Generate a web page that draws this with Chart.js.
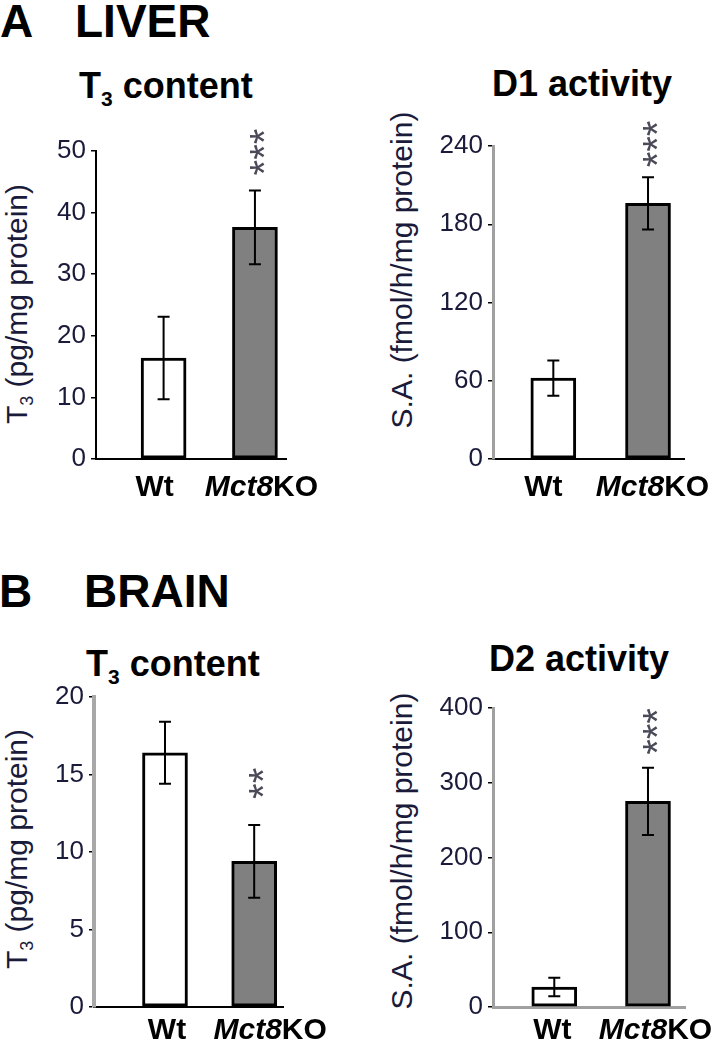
<!DOCTYPE html>
<html>
<head>
<meta charset="utf-8">
<script src="https://cdn.jsdelivr.net/npm/chart.js@4.4.1/dist/chart.umd.min.js"></script>
<style>
body { margin: 0; background: #fff; }
#page { position: relative; width: 715px; height: 1050px; overflow: hidden; font-family: 'Liberation Sans', Arial, sans-serif; }
.abs { position: absolute; white-space: nowrap; line-height: 1; }
.panel { font-size: 46px; font-weight: bold; color: #000; }
.ttl { font-size: 36px; font-weight: bold; color: #000; }
.ttl sub { font-size: 21px; vertical-align: -8px; line-height: 1; }
.ytitle { font-size: 30px; color: #1a1a3a; transform: translate(-50%, -50%) rotate(-90deg); }
.ytitle sub { font-size: 18px; vertical-align: -6px; line-height: 1; }
canvas { position: absolute; }
</style>
</head>
<body>
<div id="page">
  <div class="abs panel" style="left:0px; top:-2px;">A</div>
  <div class="abs panel" style="left:75px; top:-2px;">LIVER</div>
  <div class="abs panel" style="left:-1px; top:568px;">B</div>
  <div class="abs panel" style="left:84px; top:568px;">BRAIN</div>

  <div class="abs ttl" style="left:79px; top:68px;">T<sub>3</sub> content</div>
  <div class="abs ttl" style="left:492px; top:66px;">D1 activity</div>
  <div class="abs ttl" style="left:86px; top:646px;">T<sub>3</sub> content</div>
  <div class="abs ttl" style="left:489px; top:641px;">D2 activity</div>

  <div class="abs ytitle" style="left:19px; top:304px;">T<sub>3</sub> (pg/mg protein)</div>
  <div class="abs ytitle" style="left:402px; top:270px;">S.A. (fmol/h/mg protein)</div>
  <div class="abs ytitle" style="left:19px; top:849px;">T<sub>3</sub> (pg/mg protein)</div>
  <div class="abs ytitle" style="left:402px; top:851px;">S.A. (fmol/h/mg protein)</div>

  <canvas id="liverT3" width="340" height="400" style="left:0px; top:120px;"></canvas>
  <canvas id="liverD1" width="360" height="400" style="left:355px; top:120px;"></canvas>
  <canvas id="brainT3" width="340" height="390" style="left:0px; top:660px;"></canvas>
  <canvas id="brainD2" width="360" height="390" style="left:355px; top:660px;"></canvas>
</div>

<script>
// groups (x categories), the italic part of each label
var groups = ['Wt', 'Mct8KO'];
var groupItalic = ['', 'Mct8'];

// A  LIVER
var liverT3 = [16.4, 37.6];
var liverT3Err = [6.7, 6.0];
var liverT3Stars = ['', '***'];
var liverT3Ticks = [0, 10, 20, 30, 40, 50];

var liverD1 = [62, 196];
var liverD1Err = [13.5, 20];
var liverD1Stars = ['', '***'];
var liverD1Ticks = [0, 60, 120, 180, 240];

// B  BRAIN
var brainT3 = [16.4, 9.4];
var brainT3Err = [2.0, 2.35];
var brainT3Stars = ['', '**'];
var brainT3Ticks = [0, 5, 10, 15, 20];

var brainD2 = [26.8, 275];
var brainD2Err = [12.3, 45];
var brainD2Stars = ['', '***'];
var brainD2Ticks = [0, 100, 200, 300, 400];

var FONT = "'Liberation Sans', Arial, sans-serif";
var STAR_SIZE = 40;

// error bars, significance stars and the x labels (Mct8 in italics)
var barExtras = {
  id: 'barExtras',
  afterDatasetsDraw: function (chart, args, opts) {
    var ctx = chart.ctx;
    var ys = chart.scales.y;
    var meta = chart.getDatasetMeta(0);
    ctx.save();
    meta.data.forEach(function (bar, i) {
      var cx = bar.x;
      var top = ys.getPixelForValue(opts.values[i] + opts.errs[i]);
      var bot = ys.getPixelForValue(opts.values[i] - opts.errs[i]);
      ctx.strokeStyle = '#000';
      ctx.lineWidth = 2;
      ctx.beginPath();
      ctx.moveTo(cx, top); ctx.lineTo(cx, bot);
      ctx.moveTo(cx - 6, top); ctx.lineTo(cx + 6, top);
      ctx.moveTo(cx - 6, bot); ctx.lineTo(cx + 6, bot);
      ctx.stroke();

      if (opts.stars[i]) {
        ctx.save();
        ctx.font = STAR_SIZE + 'px ' + FONT;
        ctx.fillStyle = '#4a4a58';
        ctx.textAlign = 'left';
        ctx.textBaseline = 'alphabetic';
        ctx.translate(cx + 0.57 * STAR_SIZE, top - opts.starGap + 2);
        ctx.rotate(-Math.PI / 2);
        ctx.fillText(opts.stars[i], 0, 0);
        ctx.restore();
      }

      // label under the bar
      var it = groupItalic[i];
      var rest = groups[i].slice(it.length);
      var fIt = 'italic bold 30px ' + FONT;
      var fRg = 'bold 30px ' + FONT;
      ctx.font = fIt; var w1 = ctx.measureText(it).width;
      ctx.font = fRg; var w2 = ctx.measureText(rest).width;
      var x0 = cx + opts.labelShift[i] - (w1 + w2) / 2;
      var yb = chart.chartArea.bottom + opts.labelDrop;
      ctx.fillStyle = '#000';
      ctx.textAlign = 'left';
      ctx.textBaseline = 'alphabetic';
      ctx.font = fIt; ctx.fillText(it, x0, yb);
      ctx.font = fRg; ctx.fillText(rest, x0 + w1, yb);
    });
    ctx.restore();
  }
};

function makeChart(id, values, errs, stars, ticks, s) {
  var pts = values.map(function (v, i) { return { x: i + 1, y: v }; });
  return new Chart(document.getElementById(id), {
    type: 'bar',
    data: {
      datasets: [{
        data: pts,
        backgroundColor: ['#ffffff', '#808080'],
        borderColor: '#000',
        borderWidth: 3,
        borderSkipped: false,
        barThickness: 45
      }]
    },
    options: {
      responsive: false,
      animation: false,
      devicePixelRatio: 1,
      layout: { padding: s.pad },
      plugins: {
        legend: { display: false },
        tooltip: { enabled: false },
        barExtras: {
          values: values, errs: errs, stars: stars,
          starGap: s.starGap, labelShift: s.labelShift, labelDrop: s.labelDrop
        }
      },
      scales: {
        x: {
          type: 'linear',
          min: s.xRange[0],
          max: s.xRange[1],
          offset: false,
          ticks: { display: false },
          grid: { display: false },
          border: { display: true, color: s.xBorder[0], width: s.xBorder[1] },
          afterFit: function (sc) { sc.height = 0; }
        },
        y: {
          min: ticks[0],
          max: ticks[ticks.length - 1],
          afterBuildTicks: function (sc) {
            sc.ticks = ticks.map(function (v) { return { value: v }; });
          },
          ticks: {
            color: '#1a1a3a',
            font: { family: FONT, size: 26 },
            padding: 5
          },
          grid: {
            display: true,
            drawOnChartArea: false,
            drawTicks: true,
            tickLength: 5,
            color: '#000',
            lineWidth: 1.5
          },
          border: { display: true, color: s.yBorder[0], width: s.yBorder[1] },
          afterFit: function (sc) { sc.width = s.yWidth; }
        }
      }
    },
    plugins: [barExtras]
  });
}

makeChart('liverT3', liverT3, liverT3Err, liverT3Stars, liverT3Ticks, {
  pad: { top: 31, bottom: 61, left: 0, right: 54 }, yWidth: 96,
  xRange: [0.26, 2.34], yBorder: ['#000', 2], xBorder: ['#000', 2],
  starGap: 17, labelShift: [-9, 6.5], labelDrop: 37
});
makeChart('liverD1', liverD1, liverD1Err, liverD1Stars, liverD1Ticks, {
  pad: { top: 26, bottom: 61, left: 0, right: 31 }, yWidth: 138,
  xRange: [0.363, 2.38], yBorder: ['#a0a0a0', 3], xBorder: ['#000', 2],
  starGap: 12, labelShift: [-10, 4.5], labelDrop: 37
});
makeChart('brainT3', brainT3, brainT3Err, brainT3Stars, brainT3Ticks, {
  pad: { top: 37, bottom: 43, left: 0, right: 57 }, yWidth: 94,
  xRange: [0.204, 2.323], yBorder: ['#a8a8a8', 4], xBorder: ['#000', 2],
  starGap: 28, labelShift: [2, 16], labelDrop: 32
});
makeChart('brainD2', brainD2, brainD2Err, brainD2Stars, brainD2Ticks, {
  pad: { top: 48, bottom: 43, left: 0, right: 30 }, yWidth: 138,
  xRange: [0.346, 2.395], yBorder: ['#a0a0a0', 3], xBorder: ['#a0a0a0', 3],
  starGap: 15, labelShift: [-2, 7.5], labelDrop: 32
});
</script>
</body>
</html>
